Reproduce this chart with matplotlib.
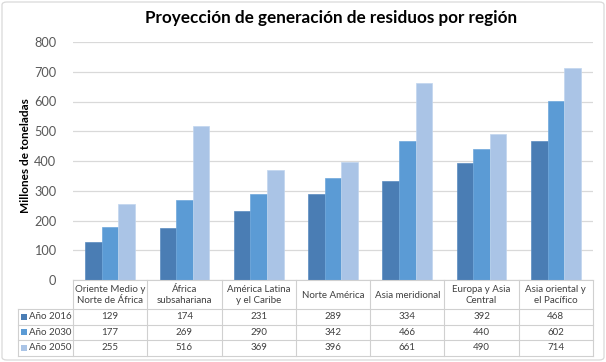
import matplotlib
matplotlib.use("Agg")
import matplotlib.pyplot as plt
import matplotlib.transforms as mtransforms
from matplotlib.patches import FancyBboxPatch, Rectangle
import numpy as np

plt.rcParams['font.family'] = ['Lato', 'DejaVu Sans']

categories = ["Oriente Medio y\nNorte de África", "África\nsubsahariana",
              "América Latina\ny el Caribe", "Norte América", "Asia meridional",
              "Europa y Asia\nCentral", "Asia oriental y\nel Pacífico"]
series_names = ["Año 2016", "Año 2030", "Año 2050"]
v2016 = [129, 174, 231, 289, 334, 392, 468]
v2030 = [177, 269, 290, 342, 466, 440, 602]
v2050 = [255, 516, 369, 396, 661, 490, 714]
series_values = [v2016, v2030, v2050]
yticks = [0, 100, 200, 300, 400, 500, 600, 700, 800]

colors = ["#4a7db4", "#5b9bd5", "#aac4e6"]
edges = ["#5a8bc0", "#6fa8dc", "#c0d5ee"]

W, H = 606, 362
fig = plt.figure(figsize=(W / 100, H / 100), dpi=100)

def fy(py):
    return 1 - py / H

def fx(px):
    return px / W

ax_l, ax_r, ax_t, ax_b = 73, 593, 42, 280
ax = fig.add_axes([fx(ax_l), fy(ax_b), (ax_r - ax_l) / W, (ax_b - ax_t) / H])

x = np.arange(len(categories))
bw = 0.223
for i, (vals, c, e) in enumerate(zip(series_values, colors, edges)):
    ax.bar(x + (i - 1) * bw, vals, width=bw, color=c, edgecolor=e, linewidth=0.5, zorder=3)

ax.set_xlim(-0.5, len(categories) - 0.5)
ax.set_ylim(0, 800)
ax.set_yticks(yticks)
ax.set_yticklabels([str(t) for t in yticks], fontsize=9.2, color="#595959")
ax.tick_params(axis='y', length=0, pad=12)
ax.set_xticks([])
ax.grid(axis='y', color="#d9d9d9", linewidth=0.9, zorder=0)
for s in ax.spines.values():
    s.set_visible(False)

# Title and axis label
fig.text(fx(331), fy(18), "Proyección de generación de residuos por región",
         ha='center', va='center', fontsize=12.3, fontweight='bold', color="#000000")
fig.text(fx(26), fy(156), "Millones de toneladas", rotation=90, ha='center', va='center',
         fontsize=8.5, fontweight='bold', color="#000000")

# Data table
blend = mtransforms.blended_transform_factory(ax.transData, fig.transFigure)
line_c = "#d0d0d0"
lw = 0.8
hdr_top, hdr_bot = 280, 309
row_lines = [309, 324.5, 340, 355.5]
leg_left = 18

fig.add_artist(plt.Line2D([-0.5, len(categories) - 0.5], [fy(hdr_top), fy(hdr_top)],
                          transform=blend, color=line_c, lw=lw))
for ry in row_lines:
    fig.add_artist(plt.Line2D([fx(leg_left), fx(ax_r)], [fy(ry), fy(ry)],
                              transform=fig.transFigure, color=line_c, lw=lw))
for b in np.arange(len(categories) + 1) - 0.5:
    fig.add_artist(plt.Line2D([b, b], [fy(hdr_top), fy(row_lines[-1])],
                              transform=blend, color=line_c, lw=lw))
fig.add_artist(plt.Line2D([fx(leg_left), fx(leg_left)], [fy(row_lines[0]), fy(row_lines[-1])],
                          transform=fig.transFigure, color=line_c, lw=lw))

txt_c = "#404040"
fs = 7.0
for i, cat in enumerate(categories):
    fig.text(i, fy((hdr_top + hdr_bot) / 2 + 0.5), cat, transform=blend, ha='center', va='center',
             fontsize=fs, color=txt_c, linespacing=1.3)
for r, (name, vals, c) in enumerate(zip(series_names, series_values, colors)):
    yc = (row_lines[r] + row_lines[r + 1]) / 2
    fig.add_artist(Rectangle((fx(21), fy(yc + 3)), 6 / W, 6 / H, transform=fig.transFigure,
                             facecolor=c, edgecolor='none'))
    fig.text(fx(29), fy(yc), name, ha='left', va='center', fontsize=fs, color=txt_c)
    for i, v in enumerate(vals):
        fig.text(i, fy(yc), str(v), transform=blend, ha='center', va='center',
                 fontsize=fs, color=txt_c)

fig.add_artist(FancyBboxPatch((fx(2), fy(H - 2)), (W - 4) / W, (H - 4) / H,
                              boxstyle="round,pad=0,rounding_size=0.008",
                              transform=fig.transFigure, facecolor='none',
                              edgecolor="#d9d9d9", lw=0.9))

fig.savefig("out.png", dpi=100)
